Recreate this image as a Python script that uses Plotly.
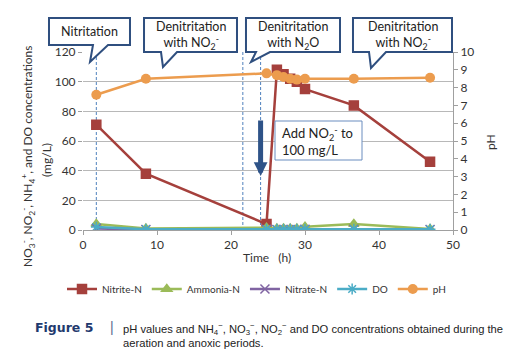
import plotly.graph_objects as go

# ---- data ----
time_h = [1.8, 8.5, 24.8, 26.2, 27.1, 28.0, 28.9, 30.0, 36.6, 46.9]
nitrite = [71, 38, 4, 108, 105, 102, 100, 95, 84, 46]
ammonia = [4, 1, 1.5, 1, 1, 1, 1, 2.2, 4, 0.7]
nitrate = [1, 0.4, 0.5, 0.4, 0.4, 0.4, 0.4, 0.5, 0.5, 0.3]
do_conc = [2, 0.5, 0.5, 0.5, 0.5, 0.5, 0.5, 0.5, 0.5, 0.5]
ph = [7.6, 8.5, 8.8, 8.7, 8.6, 8.5, 8.45, 8.5, 8.5, 8.55]
phase_lines = [1.8, 21.6, 24.0]
x_ticks = [0, 10, 20, 30, 40, 50]
y_ticks = [0, 20, 40, 60, 80, 100, 120]
ph_ticks = list(range(0, 11))

# page body has an 8px margin -> figure is drawn from (8,8)
OFF = 8
W, H = 524 - OFF, 363 - OFF
PLOT_X0, PLOT_X1, PLOT_Y0, PLOT_Y1 = 83, 453, 52, 230   # reference pixel frame
L = PLOT_X0 - OFF
T = PLOT_Y0 - OFF
PW = PLOT_X1 - PLOT_X0
PH = PLOT_Y1 - PLOT_Y0
R = W - L - PW
B = H - T - PH


def px(x):
    return (x - PLOT_X0) / PW


def py(y):
    return (PLOT_Y1 - y) / PH


FONT = "Lato"
fig = go.Figure()

series = [
    ("Nitrite-N", nitrite, "#A5403C", "square", 9),
    ("Ammonia-N", ammonia, "#9BBB59", "triangle-up", 9),
    ("Nitrate-N", nitrate, "#8064A2", "x-thin-open", 9),
    ("DO", do_conc, "#4BACC6", "asterisk-open", 9),
]
for name, vals, col, sym, sz in series:
    fig.add_trace(go.Scatter(
        x=time_h, y=vals, name=name, mode="lines+markers",
        line=dict(color=col, width=2.5),
        marker=dict(symbol=sym, size=sz, color=col, line=dict(color=col, width=1.5)),
    ))
fig.add_trace(go.Scatter(
    x=time_h, y=ph, name="pH", mode="lines+markers", yaxis="y2",
    line=dict(color="#EC9C4E", width=2.5),
    marker=dict(symbol="circle", size=10, color="#EC9C4E"),
))

shapes = []
for t in phase_lines:
    shapes.append(dict(type="line", xref="x", yref="y", x0=t, x1=t, y0=0, y1=120,
                       line=dict(color="#4F81BD", width=1, dash="3px,2px"), layer="below"))

# callout bubbles (reference pixel geometry -> paper)
bubbles = [
    ((49, 18, 130, 45), (93, 108), (90, 62), "Nitritation"),
    ((144, 18, 237, 52), (161, 177), (163, 67), "Denitritation<br>with NO<sub>2</sub><sup>-</sup>"),
    ((246, 18, 340, 52), (256, 270), (251, 62), "Denitritation<br>with N<sub>2</sub>O"),
    ((353, 18, 452, 52), (369, 386), (371, 68), "Denitritation<br>with NO<sub>2</sub><sup>-</sup>"),
]
annotations = []
for (x0, y0, x1, y1), (b0, b1), (tx, ty), txt in bubbles:
    pts = [(x0, y0), (x1, y0), (x1, y1), (b1, y1), (tx, ty), (b0, y1), (x0, y1)]
    path = "M " + " L ".join(f"{px(a):.4f},{py(b):.4f}" for a, b in pts) + " Z"
    shapes.append(dict(type="path", xref="paper", yref="paper", path=path,
                       fillcolor="white", line=dict(color="#2F4F7F", width=2)))
    annotations.append(dict(xref="paper", yref="paper", x=px((x0 + x1) / 2), y=py((y0 + y1) / 2),
                            text=txt, showarrow=False, xanchor="center", yanchor="middle",
                            font=dict(family=FONT, size=12.5, color="#222222")))

# Add NO2 box
shapes.append(dict(type="rect", xref="paper", yref="paper", x0=px(275), x1=px(362), y0=py(160), y1=py(121),
                   fillcolor="white", line=dict(color="#6A8DBF", width=1)))
annotations.append(dict(xref="paper", yref="paper", x=px(280), y=py(140.5), xanchor="left", yanchor="middle",
                        text="Add NO<sub>2</sub><sup>-</sup> to<br>100 mg/L", showarrow=False, align="left",
                        font=dict(family=FONT, size=13, color="#222222")))
# arrow
annotations.append(dict(xref="x", yref="paper", x=24.0, y=py(176), ax=0, ay=-57, text="",
                        showarrow=True, arrowhead=2, arrowsize=0.55, arrowwidth=5, arrowcolor="#2E5388"))

# axis titles
annotations.append(dict(xref="paper", yref="paper", x=px(28), y=py(157), textangle=-90, showarrow=False,
                        text="NO<sub>3</sub><sup>-</sup>, NO<sub>2</sub><sup>-</sup>, NH<sub>4</sub><sup>+</sup>, and DO concentrations",
                        font=dict(family=FONT, size=12, color="#333333"), xanchor="center", yanchor="middle"))
annotations.append(dict(xref="paper", yref="paper", x=px(46), y=py(160), textangle=-90, showarrow=False,
                        text="(mg/L)", font=dict(family=FONT, size=12, color="#333333"),
                        xanchor="center", yanchor="middle"))
annotations.append(dict(xref="paper", yref="paper", x=px(490), y=py(142), textangle=-90, showarrow=False,
                        text="pH", font=dict(family=FONT, size=12, color="#333333"),
                        xanchor="center", yanchor="middle"))
annotations.append(dict(xref="paper", yref="paper", x=px(267), y=py(257), showarrow=False,
                        text="Time   (h)", font=dict(family=FONT, size=12, color="#333333"),
                        xanchor="center", yanchor="middle"))

# caption
annotations.append(dict(xref="paper", yref="paper", x=px(33), y=py(327), xanchor="left", yanchor="middle",
                        showarrow=False, text="<b>Figure 5</b>",
                        font=dict(family="DejaVu Sans", size=12.5, color="#1F3A6E")))
annotations.append(dict(xref="paper", yref="paper", x=px(112), y=py(327), xanchor="center", yanchor="middle",
                        showarrow=False, text="|",
                        font=dict(family="Liberation Sans", size=14, color="#5A6E90")))
annotations.append(dict(xref="paper", yref="paper", x=px(121), y=py(335), xanchor="left", yanchor="middle",
                        showarrow=False, align="left",
                        text="pH values and NH<sub>4</sub><sup>−</sup>, NO<sub>3</sub><sup>−</sup>, NO<sub>2</sub><sup>−</sup> and DO concentrations obtained during the<br>aeration and anoxic periods.",
                        font=dict(family="Liberation Sans", size=11.2, color="#222222")))

fig.update_layout(
    width=W, height=H, margin=dict(l=L, r=R, t=T, b=B, autoexpand=False),
    paper_bgcolor="white", plot_bgcolor="white",
    font=dict(family=FONT, size=11, color="#333333"),
    shapes=shapes, annotations=annotations,
    showlegend=True,
    legend=dict(orientation="h", xref="paper", yref="paper",
                x=px(62), y=py(289), xanchor="left", yanchor="middle",
                font=dict(family=FONT, size=10, color="#333333"), itemwidth=30,
                tracegroupgap=0, bgcolor="rgba(0,0,0,0)"),
    xaxis=dict(range=[0, 50], tickvals=x_ticks, showgrid=False, zeroline=False,
               showline=True, linecolor="#A0A0A0", ticks="outside", ticklen=4, tickcolor="#A0A0A0",
               tickfont=dict(family=FONT, size=12)),
    yaxis=dict(range=[0, 120], tickvals=y_ticks, showgrid=True, gridcolor="#B8B8B8", gridwidth=1,
               zeroline=False, showline=False, ticks="outside", ticklen=4, tickcolor="#A0A0A0",
               tickfont=dict(family=FONT, size=12)),
    yaxis2=dict(range=[0, 10], tickvals=ph_ticks, overlaying="y", side="right", showgrid=False,
                zeroline=False, showline=True, linecolor="#A0A0A0", ticks="outside", ticklen=4,
                tickcolor="#A0A0A0", tickfont=dict(family=FONT, size=12)),
)

fig.write_html("out.html")
